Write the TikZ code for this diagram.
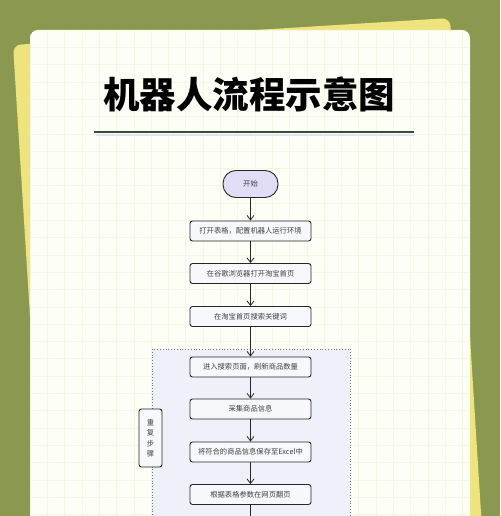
\documentclass[tikz,border=0pt]{standalone}
\usepackage{fontspec}
\setmainfont{Noto Sans CJK SC}
\usetikzlibrary{arrows.meta,positioning}
\definecolor{bggreen}{HTML}{8A9850}
\definecolor{paperyellow}{HTML}{EEE37C}
\definecolor{cardwhite}{HTML}{FDFEF6}
\definecolor{gridyellow}{HTML}{F5F7E2}
\definecolor{pilllilac}{HTML}{E2DDF6}
\definecolor{groupblue}{HTML}{EEF1FA}
\definecolor{boxfill}{HTML}{F7F8FB}
\definecolor{rulegreen}{HTML}{3C4A3A}
\definecolor{ruleshadow}{HTML}{DFE5F2}
\tikzset{
  stepbox/.style={draw=black!85,fill=boxfill,rounded corners=2.5pt,line width=0.9pt,
    minimum width=121pt,minimum height=20pt,inner sep=0pt,
    font=\fontsize{7.3}{8}\selectfont,text=black!75},
  startpill/.style={draw=black!85,fill=pilllilac,rounded corners=13pt,line width=0.9pt,
    minimum width=55pt,minimum height=27pt,inner sep=0pt,
    font=\fontsize{7.3}{8}\selectfont,text=black!75},
  flow/.style={-{Straight Barb[length=4.5pt,width=7pt]},line width=0.8pt,black!85},
}

\begin{document}
\begin{tikzpicture}[x=1pt,y=-1pt]
  \useasboundingbox (0,0) rectangle (500,516);
  \clip (0,0) rectangle (500,516);
  \fill[bggreen] (0,0) rectangle (500,516);
  % tilted yellow sheet behind the card
  \fill[paperyellow,rounded corners=8pt] (13,45) -- (450,18) -- (483,545) -- (46,572) -- cycle;
  % card with faint grid
  \fill[cardwhite,rounded corners=8pt] (30,30) rectangle (470,560);
  \begin{scope}
    \clip[rounded corners=8pt] (30,30) rectangle (470,560);
    \foreach \gx in {0,...,25} \draw[gridyellow,line width=0.6pt] (30+17.3*\gx,30) -- (30+17.3*\gx,560);
    \foreach \gy in {0,...,29} \draw[gridyellow,line width=0.6pt] (30,30+17.3*\gy) -- (470,30+17.3*\gy);
  \end{scope}

  \node (title) at (249,94) {\fontsize{36.5}{40}\selectfont\bfseries 机器人流程示意图};
  \draw[ruleshadow,line width=2.5pt] (96,135) -- (414,135);
  \draw[rulegreen,line width=1.2pt] (94,132) -- (414,132);

  % repeated part
  \fill[groupblue] (152,349) rectangle (350,560);
  \draw[black!55,dotted,line width=0.8pt] (152,349) rectangle (350,560);

  \node[startpill] (start) at (250.5,184) {开始};
  \node[stepbox] (open) at (250.5,231) {打开表格，配置机器人运行环境};
  \node[stepbox] (browser) at (250.5,273.5) {在谷歌浏览器打开淘宝首页};
  \node[stepbox] (search) at (250.5,316.5) {在淘宝首页搜索关键词};
  \node[stepbox] (refresh) at (250.5,367) {进入搜索页面，刷新商品数量};
  \node[stepbox] (collect) at (250.5,409) {采集商品信息};
  \node[stepbox] (save) at (250.5,452) {将符合的商品信息保存至Excel中};
  \node[stepbox] (turn) at (250.5,494.5) {根据表格参数在网页翻页};
  \coordinate (more) at (250.5,530);

  \node[stepbox,minimum width=23pt,minimum height=58pt,align=center,
    font=\fontsize{7.3}{10.5}\selectfont] (repeat) at (150.5,438) {重\\复\\步\\骤};

  \draw[flow] (start) -- (open);
  \draw[flow] (open) -- (browser);
  \draw[flow] (browser) -- (search);
  \draw[flow] (search) -- (refresh);
  \draw[flow] (refresh) -- (collect);
  \draw[flow] (collect) -- (save);
  \draw[flow] (save) -- (turn);
  \draw[flow] (turn) -- (more);
\end{tikzpicture}
\end{document}
